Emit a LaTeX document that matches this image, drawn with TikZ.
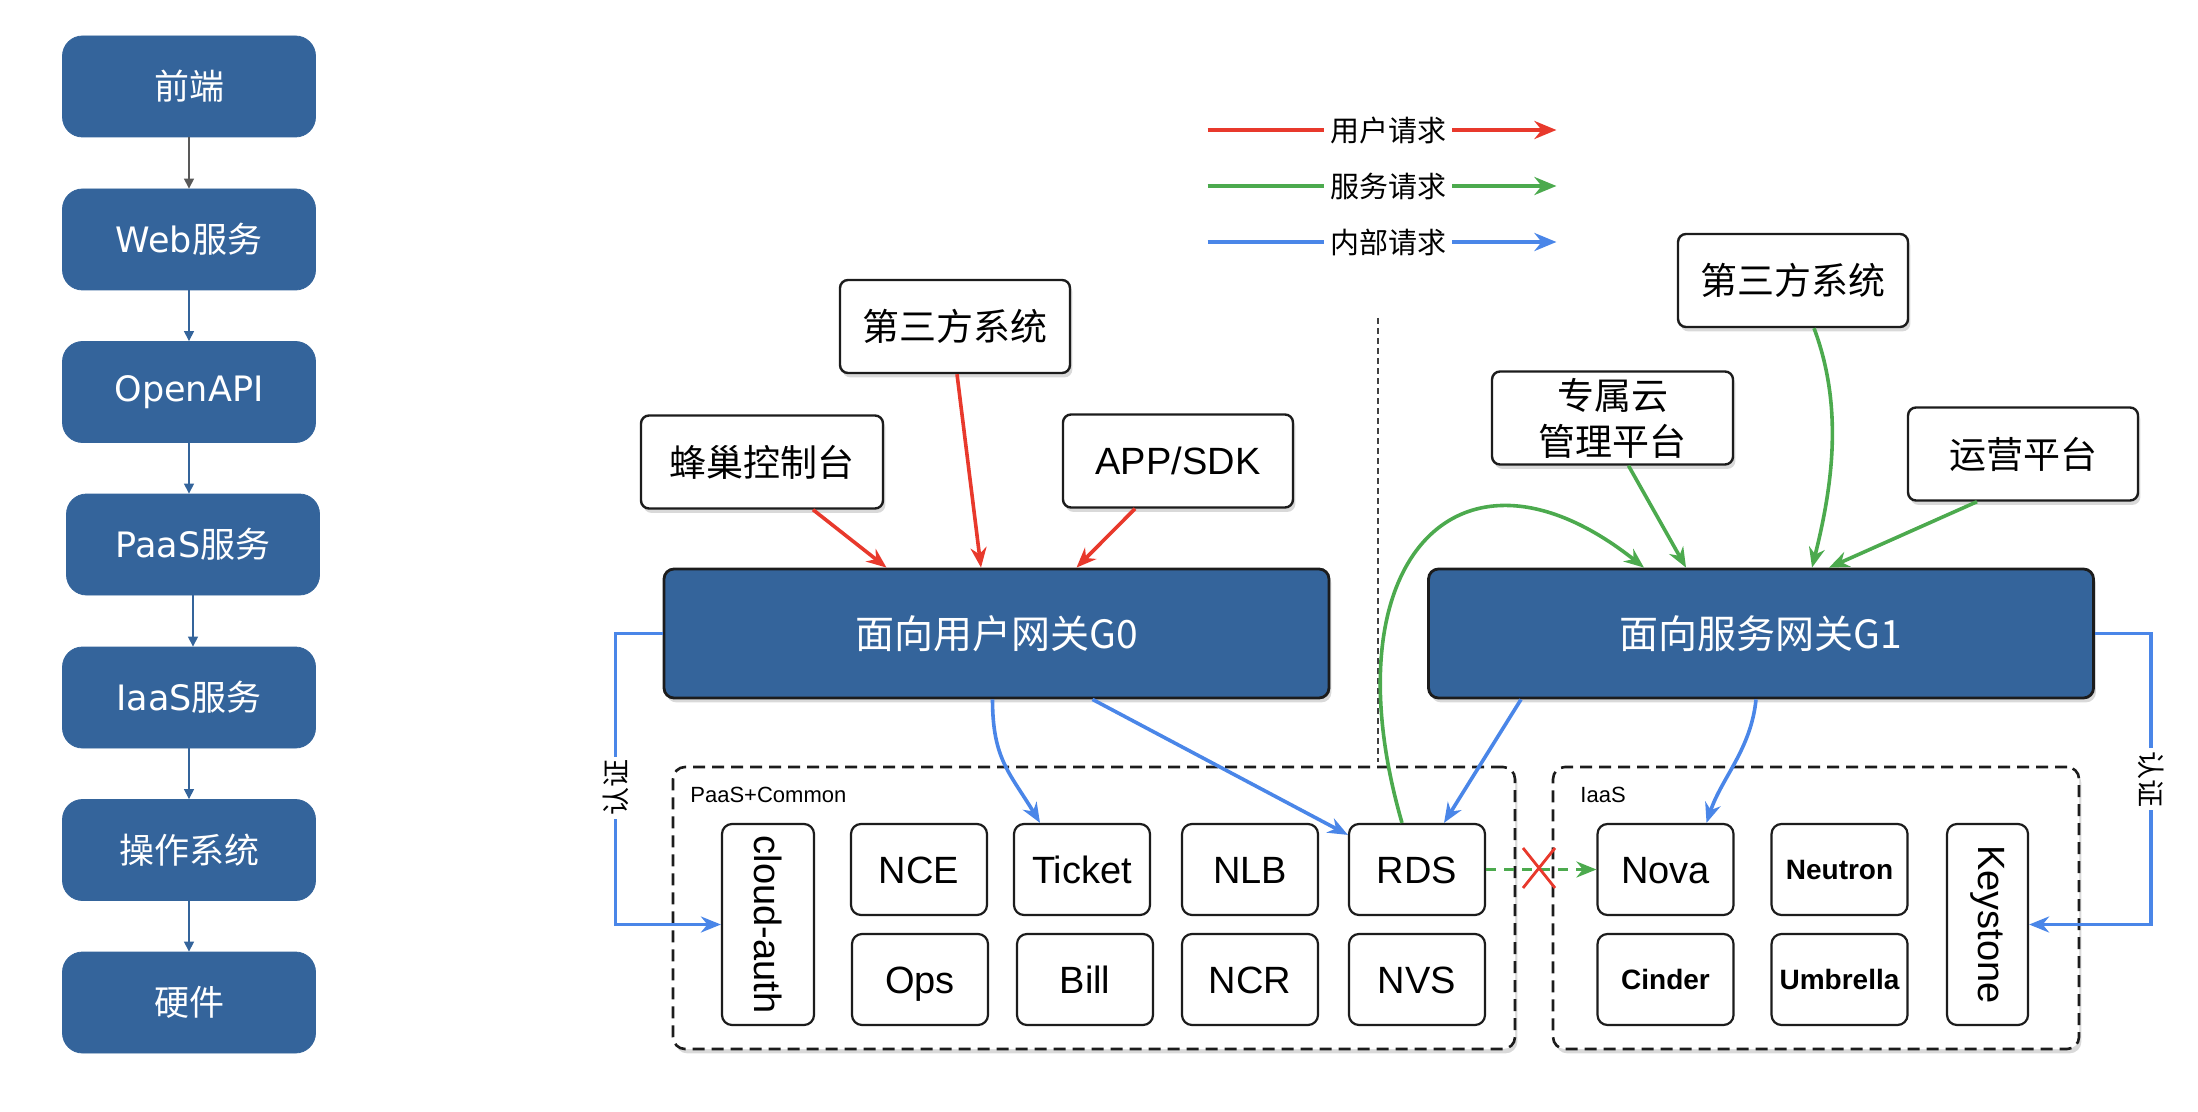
\documentclass[tikz,border=0pt]{standalone}
\usepackage{fontspec}
\usepackage{graphicx}
\setmainfont{Liberation Sans}
\newfontfamily\cjk{Noto Sans CJK SC}
\newfontfamily\lat{DejaVu Sans}
\usepackage{tikz}
\usetikzlibrary{arrows.meta,shadows}
\definecolor{deepblue}{HTML}{34649B}
\definecolor{inkdark}{HTML}{1C1C1C}
\definecolor{reqred}{HTML}{E8392C}
\definecolor{reqgreen}{HTML}{4CAA4E}
\definecolor{reqblue}{HTML}{4A86E8}

\tikzset{
  boxshadow/.style={drop shadow={shadow xshift=1.2pt,shadow yshift=-2.2pt,opacity=0.3}},
  layerbox/.style={rectangle,rounded corners=10pt,fill=deepblue,draw=deepblue,minimum width=126.5pt,minimum height=50.5pt,text=white,font=\lat\fontsize{17.5}{20}\selectfont,inner sep=2pt},
  layerarrow/.style={-{Triangle[length=5pt,width=5pt]},draw=deepblue,line width=0.6pt},
  clientbox/.style={rectangle,rounded corners=4pt,draw=inkdark,line width=1.2pt,fill=white,minimum width=115pt,minimum height=46.5pt,font=\cjk\fontsize{18.5}{23}\selectfont,align=center,inner sep=1pt,boxshadow},
  gatebox/.style={rectangle,rounded corners=5pt,draw=inkdark,line width=1.4pt,fill=deepblue,text=white,minimum width=332.5pt,minimum height=64.5pt,font=\cjk\fontsize{19.5}{22}\selectfont,boxshadow},
  groupbox/.style={rectangle,rounded corners=6pt,draw=inkdark,line width=1.3pt,dash pattern=on 6pt off 3.5pt,fill=white,minimum height=141pt,boxshadow},
  grouplabel/.style={font=\fontsize{11}{13}\selectfont,anchor=west,inner sep=0pt},
  svcframe/.style={rectangle,rounded corners=5pt,draw=inkdark,line width=1.1pt,fill=white,minimum width=68pt,minimum height=45.5pt,font=\fontsize{19}{22}\selectfont,inner sep=1pt},
  svcbox/.style={svcframe,text height=13.6pt,text depth=0pt},
  svcsmall/.style={svcframe,font=\bfseries\fontsize{14}{16}\selectfont,text height=10pt,text depth=0pt},
  userreq/.style={-{Stealth[length=10pt,width=8pt]},draw=reqred,line width=1.8pt},
  servreq/.style={-{Stealth[length=10pt,width=8pt]},draw=reqgreen,line width=1.8pt},
  innerreq/.style={-{Stealth[length=10pt,width=8pt]},draw=reqblue,line width=1.8pt},
  legendline/.style={line width=2.3pt,-{Stealth[length=11pt,width=9pt]}},
  legendtext/.style={font=\cjk\fontsize{14.5}{16}\selectfont,inner sep=3pt},
  authlabel/.style={fill=white,font=\cjk\fontsize{14}{16}\selectfont,inner sep=1.5pt},
  separator/.style={draw=black!75,line width=0.6pt,dash pattern=on 3pt off 2pt}
}

\begin{document}
\begin{tikzpicture}[x=0.5pt,y=-0.5pt]
\useasboundingbox (0,0) rectangle (2198,1112);

% layer stack on the left
\node[layerbox] (fe) at (189,86.5) {\cjk 前端};
\node[layerbox] (web) at (189,239.5) {Web\cjk 服务};
\node[layerbox] (oapi) at (189,392) {OpenAPI};
\node[layerbox] (paas) at (193,544.5) {PaaS\cjk 服务};
\node[layerbox] (iaas) at (189,697.5) {IaaS\cjk 服务};
\node[layerbox] (os) at (189,850) {\cjk 操作系统};
\node[layerbox] (hw) at (189,1002.5) {\cjk 硬件};
\draw[layerarrow,draw=black!65] (fe.south) -- (web.north);
\draw[layerarrow] (web.south) -- (oapi.north);
\draw[layerarrow] (oapi.south) -- (oapi.south |- paas.north);
\draw[layerarrow] (paas.south) -- (paas.south |- iaas.north);
\draw[layerarrow] (iaas.south) -- (os.north);
\draw[layerarrow] (os.south) -- (hw.north);

% legend
\node[legendtext] (lguser) at (1388,130) {用户请求};
\node[legendtext] (lgserv) at (1388,186) {服务请求};
\node[legendtext] (lginner) at (1388,242) {内部请求};
\draw[legendline,-,draw=reqred] ([xshift=-58pt]lguser.west) -- (lguser.west);
\draw[legendline,draw=reqred] (lguser.east) -- ([xshift=52pt]lguser.east);
\draw[legendline,-,draw=reqgreen] ([xshift=-58pt]lgserv.west) -- (lgserv.west);
\draw[legendline,draw=reqgreen] (lgserv.east) -- ([xshift=52pt]lgserv.east);
\draw[legendline,-,draw=reqblue] ([xshift=-58pt]lginner.west) -- (lginner.west);
\draw[legendline,draw=reqblue] (lginner.east) -- ([xshift=52pt]lginner.east);

% separator between the two sides
\coordinate (septop) at (1378,318);
\coordinate (sepbot) at (1378,762);
\draw[separator] (septop) -- (sepbot);

% callers
\node[clientbox] (thirdl) at (955,326.5) {第三方系统};
\node[clientbox,minimum width=121pt] (console) at (762,462) {蜂巢控制台};
\node[clientbox,font=\fontsize{19}{22}\selectfont] (appsdk) at (1178,461) {APP/SDK};
\node[clientbox] (thirdr) at (1793,280.5) {第三方系统};
\node[clientbox,minimum width=120.5pt] (private) at (1612.5,418) {专属云\\管理平台};
\node[clientbox] (opsplat) at (2023,454) {运营平台};

% gateways
\node[gatebox] (g0) at (996.5,633.5) {面向用户网关G0};
\node[gatebox] (g1) at (1761,633.5) {面向服务网关G1};

% service groups
\node[groupbox,minimum width=421pt] (paasgroup) at (1094,908) {};
\node[groupbox,minimum width=263pt] (iaasgroup) at (1816,908) {};
\node[grouplabel] (paaslabel) at (690,795) {PaaS+Common};
\node[grouplabel] (iaaslabel) at (1580,795) {IaaS};

\node[svcframe,minimum width=46pt,minimum height=100.5pt] (auth) at (768,924.5) {\rotatebox{-90}{cloud-auth}};
\node[svcbox] (nce) at (919,869.5) {NCE};
\node[svcbox] (ticket) at (1082,869.5) {Ticket};
\node[svcbox] (nlb) at (1250,869.5) {NLB};
\node[svcbox] (rds) at (1417,869.5) {RDS};
\node[svcbox] (ops) at (920,979.5) {Ops};
\node[svcbox] (bill) at (1085,979.5) {Bill};
\node[svcbox] (ncr) at (1250,979.5) {NCR};
\node[svcbox] (nvs) at (1417,979.5) {NVS};
\node[svcbox] (nova) at (1665.5,869.5) {Nova};
\node[svcsmall] (neutron) at (1839.5,869.5) {Neutron};
\node[svcsmall] (cinder) at (1665.5,979.5) {Cinder};
\node[svcsmall] (umbrella) at (1839.5,979.5) {Umbrella};
\node[svcframe,minimum width=40.5pt,minimum height=100.5pt] (keystone) at (1987.5,924.5) {\rotatebox{-90}{Keystone}};

% user requests
\draw[userreq] ([xshift=25.5pt]console.south) -- ([xshift=-55pt]g0.north);
\draw[userreq] ([xshift=1pt]thirdl.south) -- ([xshift=-7.75pt]g0.north);
\draw[userreq] ([xshift=-21.5pt]appsdk.south) -- ([xshift=40pt]g0.north);

% service requests
\draw[servreq] ([xshift=8pt]private.south) -- ([xshift=-37.5pt]g1.north);
\draw[servreq] ([xshift=10.5pt]thirdr.south) .. controls +(30,80) and +(20,-80) .. ([xshift=25.5pt]g1.north);
\draw[servreq] ([xshift=-23pt]opsplat.south) -- ([xshift=34pt]g1.north);
\draw[servreq] ([xshift=-7.5pt]rds.north) .. controls +(-76,-263) and +(-184,-146) .. ([xshift=-58.5pt]g1.north);
\draw[servreq,line width=1.6pt,dash pattern=on 5pt off 4pt] (rds.east) -- (nova.west);
\coordinate (blocked) at (1539,868);
\draw[draw=reqred,line width=1.4pt] ([shift={(-8pt,10pt)}]blocked) -- ([shift={(8pt,-10pt)}]blocked);
\draw[draw=reqred,line width=1.4pt] ([shift={(8pt,10pt)}]blocked) -- ([shift={(-8pt,-10pt)}]blocked);

% internal requests
\draw[innerreq] ([xshift=-2pt]g0.south) .. controls +(0,60) and +(-30,-50) .. ([xshift=-21pt]ticket.north);
\draw[innerreq] ([xshift=48pt]g0.south) -- ([yshift=-6pt]rds.north west);
\draw[innerreq] ([xshift=-120pt]g1.south) -- ([xshift=13.5pt]rds.north);
\draw[innerreq] ([xshift=-2.5pt]g1.south) .. controls +(-5,50) and +(15,-45) .. ([xshift=20.5pt]nova.north);
\draw[innerreq] (g0.west) -- ++(-47,0) |- node[authlabel,pos=0.265,rotate=90] {认证} (auth.west);
\draw[innerreq] (g1.east) -- ++(56,0) |- node[authlabel,pos=0.25,rotate=-90] {认证} (keystone.east);
\end{tikzpicture}
\end{document}
